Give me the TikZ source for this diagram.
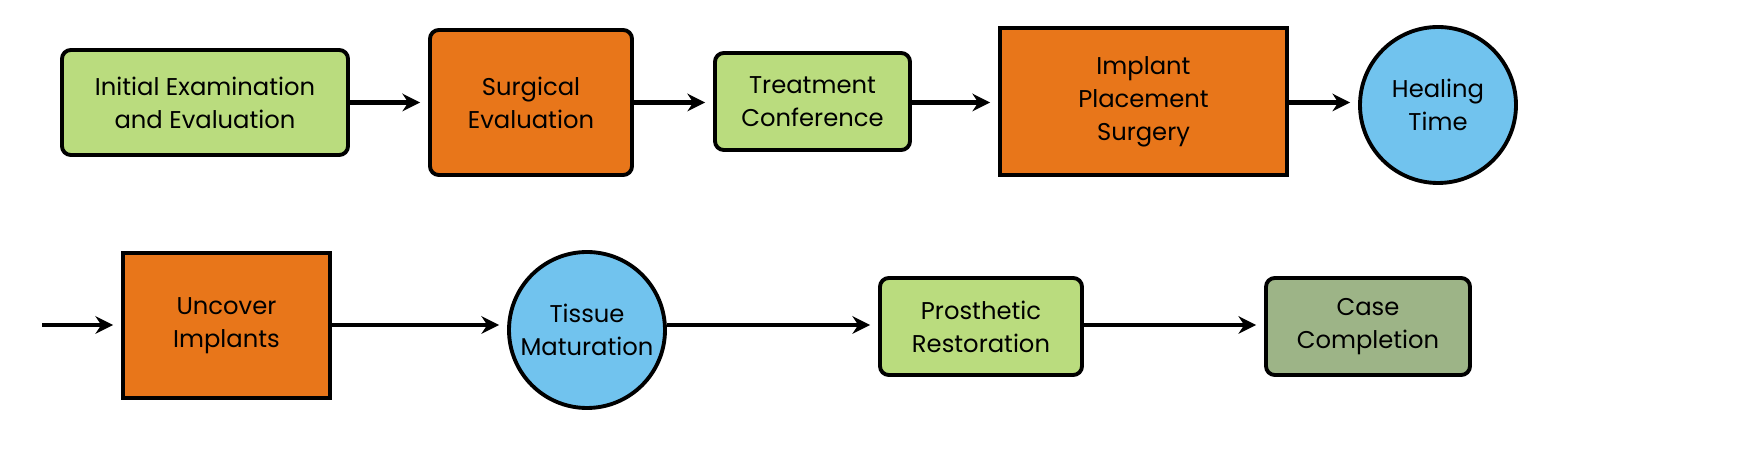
\documentclass[tikz,border=0pt]{standalone}
\usepackage{fontspec}
\setmainfont{Poppins}
\usetikzlibrary{arrows.meta}
\definecolor{stepgreen}{HTML}{BADC7E}
\definecolor{steporange}{HTML}{E8761A}
\definecolor{stepblue}{HTML}{71C3EE}
\definecolor{donegreen}{HTML}{9DB487}
\tikzset{
  stage/.style={draw=black, line width=1.1pt, align=center, inner sep=0pt,
    font=\fontsize{6.9}{9.4}\selectfont},
  soft/.style={stage, rounded corners=2.5pt, fill=stepgreen},
  hard/.style={stage, fill=steporange},
  wait/.style={stage, circle, fill=stepblue, minimum size=1.56cm},
  flow/.style={line width=1.3pt, -{Stealth[length=5pt,width=5pt]}}
}
\begin{document}
\begin{tikzpicture}
  \useasboundingbox (0,0) rectangle (17.52,-4.54);

  % first row
  \node[soft, minimum width=2.86cm, minimum height=1.05cm] (exam) at (2.05,-1.025) {Initial Examination\\and Evaluation};
  \node[hard, rounded corners=2.5pt, minimum width=2.02cm, minimum height=1.45cm] (surg) at (5.31,-1.025) {Surgical\\Evaluation};
  \node[soft, minimum width=1.95cm, minimum height=0.97cm] (conf) at (8.125,-1.015) {Treatment\\Conference};
  \node[hard, minimum width=2.87cm, minimum height=1.47cm] (place) at (11.435,-1.015) {Implant\\Placement\\Surgery};
  \node[wait] (heal) at (14.38,-1.05) {Healing\\Time};

  % second row
  \coordinate (wrap) at (0.42,-3.25);
  \node[hard, minimum width=2.07cm, minimum height=1.45cm] (uncover) at (2.265,-3.255) {Uncover\\Implants};
  \node[wait] (tissue) at (5.87,-3.30) {Tissue\\Maturation};
  \node[soft, minimum width=2.02cm, minimum height=0.97cm] (prost) at (9.81,-3.265) {Prosthetic\\Restoration};
  \node[soft, fill=donegreen, minimum width=2.04cm, minimum height=0.97cm] (done) at (13.68,-3.265) {Case\\Completion};

  % connectors
  \draw[flow] (exam) -- ([xshift=-0.08cm]surg.west |- exam);
  \draw[flow] (surg.east |- exam) -- ([xshift=-0.08cm]conf.west |- exam);
  \draw[flow] (conf.east |- exam) -- ([xshift=-0.08cm]place.west |- exam);
  \draw[flow] (place.east |- exam) -- ([xshift=-0.08cm]heal.west |- exam);
  \draw[flow] (wrap) -- ([xshift=-0.08cm]uncover.west |- wrap);
  \draw[flow] (uncover.east |- wrap) -- ([xshift=-0.08cm]tissue.west |- wrap);
  \draw[flow] (tissue.east |- wrap) -- ([xshift=-0.08cm]prost.west |- wrap);
  \draw[flow] (prost.east |- wrap) -- ([xshift=-0.08cm]done.west |- wrap);
\end{tikzpicture}
\end{document}
